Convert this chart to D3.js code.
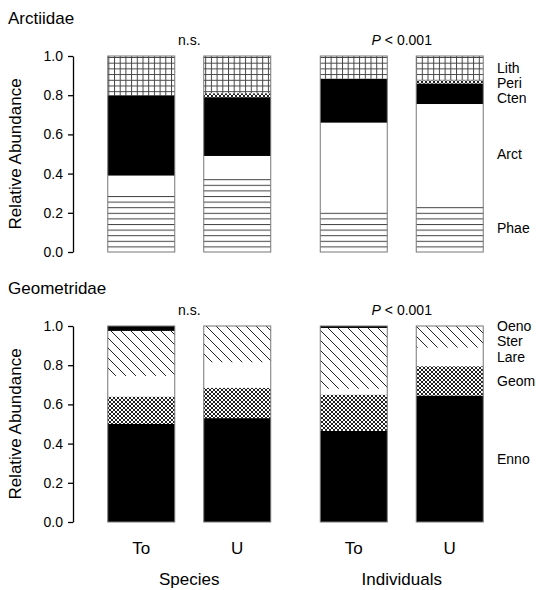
<!DOCTYPE html>
<html>
<head>
<meta charset="utf-8">
<script src="https://cdn.jsdelivr.net/npm/d3@7"></script>
<style>
  body { margin: 0; background: #fff; }
  svg text { font-family: "Liberation Sans", Arial, sans-serif; fill: #000; }
</style>
</head>
<body>
<svg id="chart" width="542" height="590"></svg>
<script>
// groups and bars
const groups = ["Species", "Individuals"];
const sites = ["To", "U"];
const bars = ["Species-To", "Species-U", "Individuals-To", "Individuals-U"];
const yTicks = [0, 0.2, 0.4, 0.6, 0.8, 1.0];

// Arctiidae, bottom to top
const arctTaxa = ["Phae", "Arct", "Cten", "Peri", "Lith"];
const arctPhae = [0.29, 0.375, 0.22, 0.245];
const arctArct = [0.10, 0.115, 0.44, 0.51];
const arctCten = [0.41, 0.30, 0.225, 0.105];
const arctPeri = [0.00, 0.02, 0.00, 0.015];
const arctLith = [0.20, 0.19, 0.115, 0.125];

// Geometridae, bottom to top
const geomTaxa = ["Enno", "Geom", "Lare", "Ster", "Oeno"];
const geomEnno = [0.50, 0.53, 0.465, 0.645];
const geomGeom = [0.14, 0.155, 0.185, 0.15];
const geomLare = [0.105, 0.13, 0.03, 0.095];
const geomSter = [0.23, 0.185, 0.31, 0.11];
const geomOeno = [0.025, 0.0, 0.01, 0.0];

const panels = [
  { title: "Arctiidae", taxa: arctTaxa, values: [arctPhae, arctArct, arctCten, arctPeri, arctLith],
    fills: ["url(#hlines)", "#fff", "#000", "url(#xhatch)", "url(#grid)"], top: 56 },
  { title: "Geometridae", taxa: geomTaxa, values: [geomEnno, geomGeom, geomLare, geomSter, geomOeno],
    fills: ["#000", "url(#xhatch)", "#fff", "url(#diag)", "#000"], top: 326 }
];

const svg = d3.select("#chart");
const defs = svg.append("defs");

// patterns
const hl = defs.append("pattern").attr("id", "hlines").attr("patternUnits", "userSpaceOnUse")
  .attr("width", 6).attr("height", 5.6);
hl.append("rect").attr("width", 6).attr("height", 5.6).attr("fill", "#fff");
hl.append("line").attr("x1", 0).attr("x2", 6).attr("y1", 0.5).attr("y2", 0.5)
  .attr("stroke", "#444").attr("stroke-width", 1);

const gr = defs.append("pattern").attr("id", "grid").attr("patternUnits", "userSpaceOnUse")
  .attr("width", 5.7).attr("height", 5.7);
gr.append("rect").attr("width", 5.7).attr("height", 5.7).attr("fill", "#fff");
gr.append("path").attr("d", "M0,0.5H5.7M0.5,0V5.7").attr("stroke", "#444").attr("stroke-width", 1);

const dg = defs.append("pattern").attr("id", "diag").attr("patternUnits", "userSpaceOnUse")
  .attr("width", 10).attr("height", 10);
dg.append("rect").attr("width", 10).attr("height", 10).attr("fill", "#fff");
dg.append("path").attr("d", "M-5,-5L15,15M-5,5L5,15M5,-5L15,5")
  .attr("stroke", "#222").attr("stroke-width", 1);

const xh = defs.append("pattern").attr("id", "xhatch").attr("patternUnits", "userSpaceOnUse")
  .attr("width", 4).attr("height", 4);
xh.append("rect").attr("width", 4).attr("height", 4).attr("fill", "#fff");
xh.append("path").attr("d", "M0,0L4,4M4,0L0,4")
  .attr("stroke", "#222").attr("stroke-width", 1);

// x scales
const xGroup = d3.scaleBand().domain(groups).range([83, 508]);
const xSite = d3.scaleBand().domain(sites).range([0, xGroup.bandwidth()])
  .paddingInner(0.302).paddingOuter(0.258);
const barX = (b) => {
  const [g, s] = b.split("-");
  return xGroup(g) + xSite(s);
};

panels.forEach((p) => {
  const y = d3.scaleLinear().domain([0, 1]).range([p.top + 196, p.top]);

  // title
  svg.append("text").attr("x", 8).attr("y", p.top - 32).attr("font-size", 17).text(p.title);

  // test labels
  svg.append("text").attr("x", xGroup("Species") + xGroup.bandwidth() / 2).attr("y", p.top - 11)
    .attr("text-anchor", "middle").attr("font-size", 14).text("n.s.");
  const pt = svg.append("text").attr("x", xGroup("Individuals") + xGroup.bandwidth() / 2)
    .attr("y", p.top - 11).attr("text-anchor", "middle").attr("font-size", 14);
  pt.append("tspan").attr("font-style", "italic").text("P");
  pt.append("tspan").text(" < 0.001");

  // y axis
  svg.append("g").attr("transform", "translate(73,0)")
    .call(d3.axisLeft(y).tickValues(yTicks).tickFormat(d3.format(".1f")).tickSize(5).tickSizeOuter(0))
    .call((g) => g.selectAll("text").attr("font-size", 14).attr("font-family", "Liberation Sans, Arial, sans-serif").attr("dx", "-2"))
    .call((g) => g.selectAll("line, path").attr("stroke", "#000").attr("stroke-width", 1.3));

  svg.append("text").attr("transform", `translate(21,${p.top + 98}) rotate(-90)`)
    .attr("text-anchor", "middle").attr("font-size", 17).text("Relative Abundance");

  // stacked rows
  const rows = bars.map((b, i) => {
    const r = { bar: b };
    p.taxa.forEach((t, ti) => (r[t] = p.values[ti][i]));
    return r;
  });
  const stacked = d3.stack().keys(p.taxa)(rows);

  stacked.forEach((layer, li) => {
    svg.append("g").selectAll("rect").data(layer).join("rect")
      .attr("x", (d) => barX(d.data.bar))
      .attr("width", xSite.bandwidth())
      .attr("y", (d) => y(d[1]))
      .attr("height", (d) => y(d[0]) - y(d[1]))
      .attr("fill", p.fills[li]);
  });

  // bar outlines
  svg.append("g").selectAll("rect").data(bars).join("rect")
    .attr("x", (b) => barX(b)).attr("width", xSite.bandwidth())
    .attr("y", y(1)).attr("height", y(0) - y(1))
    .attr("fill", "none").attr("stroke", "#777").attr("stroke-width", 1);

  // right labels at midpoints of last bar, spread apart
  const last = stacked.map((layer) => layer[layer.length - 1]);
  const labs = p.taxa.map((t, ti) => ({ t, y: y((last[ti][0] + last[ti][1]) / 2) }));
  labs.sort((a, b) => a.y - b.y);
  for (let i = 1; i < labs.length; i++) {
    if (labs[i].y - labs[i - 1].y < 15) labs[i].y = labs[i - 1].y + 15;
  }
  svg.append("g").selectAll("text").data(labs).join("text")
    .attr("x", 497).attr("y", (d) => d.y).attr("dy", "0.36em")
    .attr("font-size", 14).text((d) => d.t);
});

// x labels
svg.append("g").selectAll("text").data(bars).join("text")
  .attr("x", (b) => barX(b) + xSite.bandwidth() / 2).attr("y", 554)
  .attr("text-anchor", "middle").attr("font-size", 17)
  .text((b) => b.split("-")[1]);
svg.append("g").selectAll("text").data(groups).join("text")
  .attr("x", (g) => xGroup(g) + xGroup.bandwidth() / 2).attr("y", 585)
  .attr("text-anchor", "middle").attr("font-size", 17).text((g) => g);
</script>
</body>
</html>
